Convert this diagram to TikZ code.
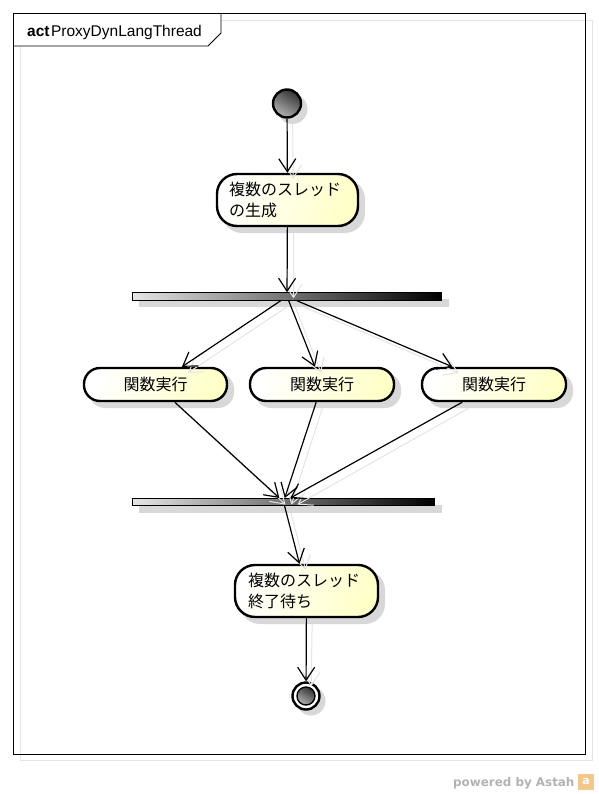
\documentclass[tikz,border=0pt]{standalone}
\usepackage{fontspec}
\setmainfont{Liberation Sans}
\newfontfamily\cjk{Noto Sans CJK JP}
\newfontfamily\footfont{DejaVu Sans}
\usetikzlibrary{arrows.meta}
\definecolor{actyellow}{HTML}{FFFFC8}
\definecolor{shadowgray}{HTML}{D8D8D8}
\definecolor{lineshadow}{HTML}{E4E4E4}
\definecolor{astahorange}{HTML}{F3C98B}
\tikzset{>={Straight Barb[length=13pt,width=17pt]}}
\tikzset{
	action/.style={rectangle, draw=black, line width=2.4pt, rounded corners=#1, left color=white, right color=actyellow, shading angle=70, inner sep=0pt, font=\cjk\fontsize{16}{21}\selectfont},
	actionshadow/.style={rectangle, fill=shadowgray, rounded corners=#1, inner sep=0pt},
	bar/.style={rectangle, draw=black, line width=1.1pt, left color=white!90!black, right color=black, inner sep=0pt},
	barshadow/.style={rectangle, fill=shadowgray, inner sep=0pt},
	disc/.style={circle, draw=black, line width=2.4pt, top color=black!80, bottom color=black!30, shading angle=330, inner sep=0pt, minimum size=#1},
	discshadow/.style={circle, fill=shadowgray, inner sep=0pt, minimum size=#1},
	flow/.style={->, line width=1.2pt, draw=black},
	flowshadow/.style={->, line width=1pt, draw=lineshadow}
}

\begin{document}
\begin{tikzpicture}[x=1pt, y=-1pt]
	\useasboundingbox (0,0) rectangle (598,794);

	% Frame
	\draw[lineshadow, line width=0.8pt] (20.5,20.5) rectangle (592,760);
	\draw[black, line width=0.8pt] (13.5,13.5) rectangle (585.5,754.5);
	\draw[black, line width=0.8pt, fill=white] (13.5,13.5) -- (221,13.5) -- (221,33) -- (208,46) -- (13.5,46) -- cycle;
	\node[anchor=base west, inner sep=0pt, font=\fontsize{15.5}{18}\selectfont](frametitle) at (27,37) {\textbf{act}\hspace{1.5pt}ProxyDynLangThread};

	% Shadows
	\node[discshadow=30pt](init-s) at (292.5,109) {};
	\node[actionshadow=20pt, minimum width=143pt, minimum height=54pt](create-s) at (293.5,206) {};
	\node[barshadow, minimum width=310pt, minimum height=8pt](fork-s) at (293.5,302.5) {};
	\node[actionshadow=16pt, minimum width=145pt, minimum height=35pt](runA-s) at (161.5,390.5) {};
	\node[actionshadow=16pt, minimum width=146pt, minimum height=35pt](runB-s) at (328,390.5) {};
	\node[actionshadow=16pt, minimum width=146pt, minimum height=35pt](runC-s) at (500,390.5) {};
	\node[barshadow, minimum width=303pt, minimum height=8pt](join-s) at (290,508.8) {};
	\node[actionshadow=20pt, minimum width=145pt, minimum height=54pt](wait-s) at (312.5,597) {};
	\node[discshadow=29pt](final-s) at (311,701) {};

	% Nodes
	\node[disc=28pt](init) at (287,103.5) {};
	\node[action=20pt, minimum width=141pt, minimum height=52pt, text width=117pt, align=left](create) at (287.5,200) {複数のスレッド\\の生成};
	\node[bar, minimum width=309pt, minimum height=7.4pt](fork) at (287,296.5) {};
	\node[action=16pt, minimum width=143pt, minimum height=33pt](runA) at (155.5,384.5) {関数実行};
	\node[action=16pt, minimum width=144pt, minimum height=33pt](runB) at (322,384.5) {関数実行};
	\node[action=16pt, minimum width=144pt, minimum height=33pt](runC) at (494,384.5) {関数実行};
	\node[bar, minimum width=302pt, minimum height=6.5pt](join) at (283.5,501.8) {};
	\node[action=20pt, minimum width=143pt, minimum height=52pt, text width=117pt, align=left](wait) at (306.5,591) {複数のスレッド\\終了待ち};
	\node[circle, draw=black, line width=2.4pt, fill=white, inner sep=0pt, minimum size=27pt](final) at (306,696) {};
	\node[disc=18pt, line width=1.4pt](finalcore) at (306,696) {};

	% Arrow shadows
	\draw[flowshadow] (init-s) to (create-s);
	\draw[flowshadow] (create-s) to (fork-s);
	\draw[flowshadow] (fork-s) to (runA-s);
	\draw[flowshadow] (fork-s) to (runB-s);
	\draw[flowshadow] (fork-s) to (runC-s);
	\draw[flowshadow] (runA-s) to (join-s);
	\draw[flowshadow] (runB-s) to (join-s);
	\draw[flowshadow] (runC-s) to (join-s);
	\draw[flowshadow] (join-s) to (wait-s);
	\draw[flowshadow] (wait-s) to (final-s);

	% Arrows
	\draw[flow] (init) to (create);
	\draw[flow] (create) to (fork);
	\draw[flow] (fork) to (runA);
	\draw[flow] (fork) to (runB);
	\draw[flow] (fork) to (runC);
	\draw[flow] (runA) to (join);
	\draw[flow] (runB) to (join);
	\draw[flow] (runC) to (join);
	\draw[flow] (join) to (wait);
	\draw[flow] (wait) to (final);

	% Footer
	\node[anchor=base west, inner sep=0pt, text=black!30, font=\footfont\bfseries\fontsize{11.9}{16}\selectfont](powered) at (453,786) {powered by Astah};
	\node[rectangle, fill=astahorange, text=white, inner sep=0pt, minimum size=16pt, font=\footfont\bfseries\fontsize{11}{11}\selectfont](astahlogo) at (586,781.5) {a};
\end{tikzpicture}
\end{document}
